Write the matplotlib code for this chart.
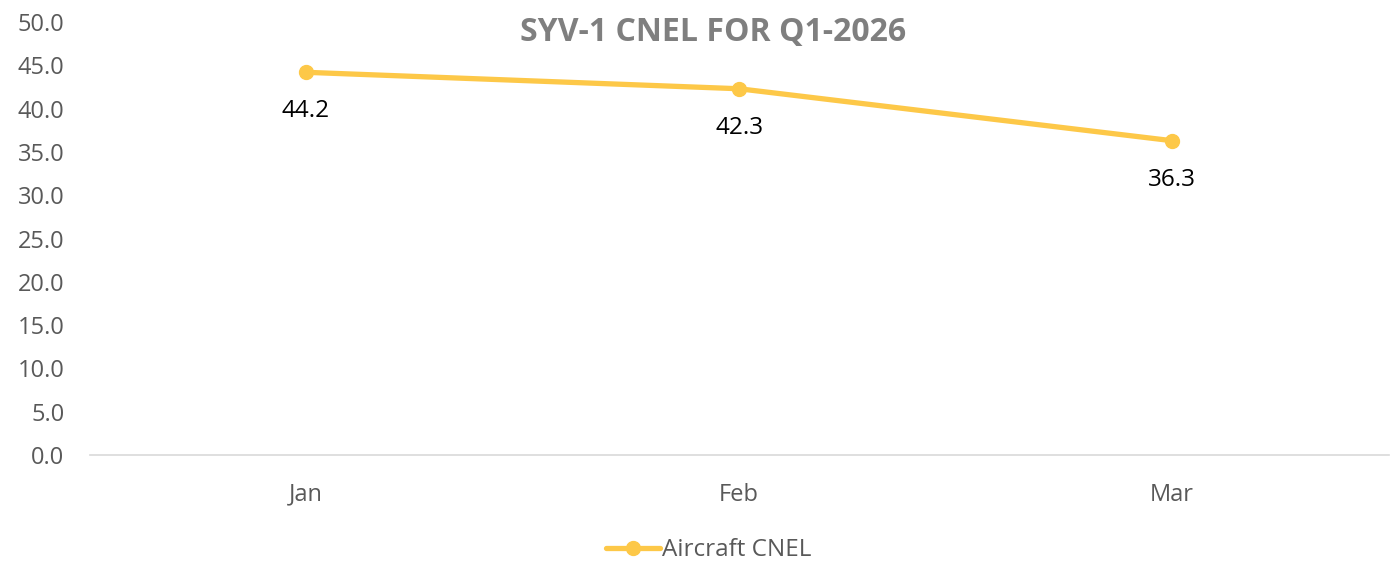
import matplotlib.pyplot as plt

plt.rcParams['font.family'] = ['Open Sans', 'DejaVu Sans']

months = ['Jan', 'Feb', 'Mar']
cnel = [44.2, 42.3, 36.3]

line_color = '#FDC848'
gray = '#595959'

fig = plt.figure(figsize=(13.9, 5.66), dpi=100)
ax = fig.add_axes([0.0644, 0.196, 0.9346, 0.765])

x = range(len(months))
ax.plot(x, cnel, color=line_color, lw=3.8, marker='o', markersize=10,
        solid_capstyle='round', label='Aircraft CNEL', zorder=3)

for i, v in zip(x, cnel):
    ax.annotate(f'{v:.1f}', (i, v), xytext=(0, -28), textcoords='offset points',
                ha='center', va='center', fontsize=17.5, color='black')

ax.set_xlim(-0.5, 2.5)
ax.set_ylim(0, 50)
ax.set_yticks(range(0, 51, 5))
ax.set_yticklabels([f'{t:.1f}' for t in range(0, 51, 5)])
ax.set_xticks(list(x))
ax.set_xticklabels(months)
ax.tick_params(axis='both', length=0, labelsize=17, colors=gray)
ax.tick_params(axis='x', pad=20)
ax.tick_params(axis='y', pad=18)

for s in ['top', 'right', 'left']:
    ax.spines[s].set_visible(False)
ax.spines['bottom'].set_color('#D9D9D9')
ax.spines['bottom'].set_linewidth(1.2)

fig.text(0.513, 0.942, 'SYV-1 CNEL FOR Q1-2026', ha='center', va='center',
         fontsize=23, fontweight='bold', color='#7F7F7F')

fig.legend(loc='center', bbox_to_anchor=(0.51, 0.028), frameon=False,
           fontsize=17.5, labelcolor=gray, handlelength=2.2, handletextpad=0.1)

fig.savefig('out.png', dpi=100)
